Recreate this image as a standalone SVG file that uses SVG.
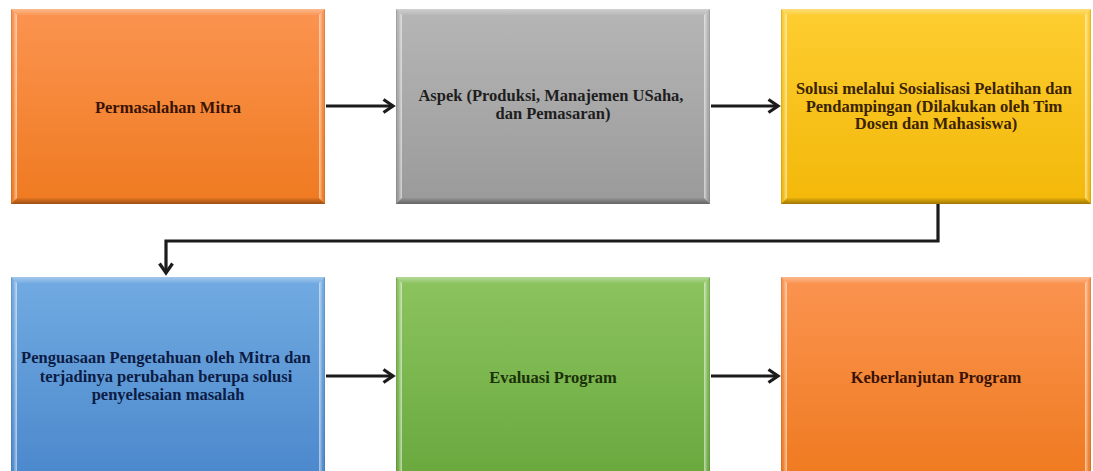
<svg xmlns="http://www.w3.org/2000/svg" width="1093" height="471" viewBox="0 0 1093 471">
  <style>
    .lbl { font-family: "Liberation Serif", "Times New Roman", serif; font-weight: bold; font-size: 16.5px; text-anchor: middle; }
    .conn { fill: none; stroke: #1b1b1b; stroke-width: 3.2; }
    .edge { fill: none; stroke-width: 1; }
  </style>
  <defs>
    <!-- body fills, light at top, deeper at bottom -->
    <linearGradient id="gOrange" x1="0" y1="0" x2="0" y2="1">
      <stop offset="0" stop-color="#fb9450"/>
      <stop offset="1" stop-color="#ef7a20"/>
    </linearGradient>
    <linearGradient id="gGray" x1="0" y1="0" x2="0" y2="1">
      <stop offset="0" stop-color="#b6b6b6"/>
      <stop offset="1" stop-color="#9a9a9a"/>
    </linearGradient>
    <linearGradient id="gYellow" x1="0" y1="0" x2="0" y2="1">
      <stop offset="0" stop-color="#fdcd30"/>
      <stop offset="1" stop-color="#f3b809"/>
    </linearGradient>
    <linearGradient id="gBlue" x1="0" y1="0" x2="0" y2="1">
      <stop offset="0" stop-color="#72abe2"/>
      <stop offset="1" stop-color="#4b88cc"/>
    </linearGradient>
    <linearGradient id="gGreen" x1="0" y1="0" x2="0" y2="1">
      <stop offset="0" stop-color="#8cc460"/>
      <stop offset="1" stop-color="#6aa83e"/>
    </linearGradient>
    <!-- bevel face shading, colour-neutral overlays -->
    <linearGradient id="bevL" x1="0" y1="0" x2="1" y2="0">
      <stop offset="0" stop-color="#000" stop-opacity="0.22"/>
      <stop offset="0.35" stop-color="#fff" stop-opacity="0"/>
      <stop offset="1" stop-color="#fff" stop-opacity="0.6"/>
    </linearGradient>
    <linearGradient id="bevR" x1="0" y1="0" x2="1" y2="0">
      <stop offset="0" stop-color="#fff" stop-opacity="0.6"/>
      <stop offset="0.65" stop-color="#fff" stop-opacity="0"/>
      <stop offset="1" stop-color="#000" stop-opacity="0.2"/>
    </linearGradient>
    <linearGradient id="bevT" x1="0" y1="0" x2="0" y2="1">
      <stop offset="0" stop-color="#fff" stop-opacity="0.35"/>
      <stop offset="1" stop-color="#fff" stop-opacity="0.05"/>
    </linearGradient>
    <linearGradient id="bevB" x1="0" y1="0" x2="0" y2="1">
      <stop offset="0" stop-color="#000" stop-opacity="0.05"/>
      <stop offset="1" stop-color="#000" stop-opacity="0.35"/>
    </linearGradient>
    <marker id="chev" viewBox="0 0 14 16" refX="11" refY="8" markerWidth="14" markerHeight="16" markerUnits="userSpaceOnUse" orient="auto">
      <path d="M1.5,1.5 L11,8 L1.5,14.5" fill="none" stroke="#1b1b1b" stroke-width="3.2" stroke-linejoin="miter"/>
    </marker>
  </defs>

  <rect width="1093" height="471" fill="#ffffff"/>

  <!-- connectors -->
  <g id="connectors">
    <line class="conn" x1="326" y1="106" x2="393" y2="106" marker-end="url(#chev)"/>
    <line class="conn" x1="711" y1="106" x2="778" y2="106" marker-end="url(#chev)"/>
    <path class="conn" d="M938,204 V241 H166 V273" marker-end="url(#chev)"/>
    <line class="conn" x1="326" y1="376" x2="393" y2="376" marker-end="url(#chev)"/>
    <line class="conn" x1="711" y1="376" x2="778" y2="376" marker-end="url(#chev)"/>
  </g>

  <!-- row 1 -->
  <g id="n-permasalahan">
    <rect x="11" y="9" width="314" height="195" fill="url(#gOrange)"/>
    <polygon points="11,9 17,15 17,198 11,204" fill="url(#bevL)"/>
    <polygon points="325,9 319,15 319,198 325,204" fill="url(#bevR)"/>
    <polygon points="11,9 325,9 319,15 17,15" fill="url(#bevT)"/>
    <polygon points="11,204 17,198 319,198 325,204" fill="url(#bevB)"/>
    <text class="lbl" x="168" y="113" fill="#3a1305">Permasalahan Mitra</text>
  </g>

  <g id="n-aspek">
    <rect x="396" y="9" width="314" height="195" fill="url(#gGray)"/>
    <polygon points="396,9 402,15 402,198 396,204" fill="url(#bevL)"/>
    <polygon points="710,9 704,15 704,198 710,204" fill="url(#bevR)"/>
    <polygon points="396,9 710,9 704,15 402,15" fill="url(#bevT)"/>
    <polygon points="396,204 402,198 704,198 710,204" fill="url(#bevB)"/>
    <text class="lbl" x="553" y="101" fill="#1e1e1e">
      <tspan x="553">Aspek (Produksi, Manajemen USaha,</tspan>
      <tspan x="553" dy="18">dan Pemasaran)</tspan>
    </text>
  </g>

  <g id="n-solusi">
    <rect x="781" y="9" width="310" height="195" fill="url(#gYellow)"/>
    <polygon points="781,9 787,15 787,198 781,204" fill="url(#bevL)"/>
    <polygon points="1091,9 1085,15 1085,198 1091,204" fill="url(#bevR)"/>
    <polygon points="781,9 1091,9 1085,15 787,15" fill="url(#bevT)"/>
    <polygon points="781,204 787,198 1085,198 1091,204" fill="url(#bevB)"/>
    <text class="lbl" x="936" y="94" fill="#3a2300">
      <tspan x="936">Solusi melalui Sosialisasi Pelatihan dan</tspan>
      <tspan x="936" dy="17.5">Pendampingan (Dilakukan oleh Tim</tspan>
      <tspan x="936" dy="17.5">Dosen dan Mahasiswa)</tspan>
    </text>
  </g>

  <!-- row 2 -->
  <g id="n-penguasaan">
    <rect x="11" y="277" width="314" height="200" fill="url(#gBlue)"/>
    <polygon points="11,277 17,283 17,477 11,477" fill="url(#bevL)"/>
    <polygon points="325,277 319,283 319,477 325,477" fill="url(#bevR)"/>
    <polygon points="11,277 325,277 319,283 17,283" fill="url(#bevT)"/>
    <text class="lbl" x="168" y="363" fill="#0c1c44">
      <tspan x="168">Penguasaan Pengetahuan oleh Mitra dan</tspan>
      <tspan x="168" dy="18.5">terjadinya perubahan berupa solusi</tspan>
      <tspan x="168" dy="18.5">penyelesaian masalah</tspan>
    </text>
  </g>

  <g id="n-evaluasi">
    <rect x="396" y="277" width="314" height="200" fill="url(#gGreen)"/>
    <polygon points="396,277 402,283 402,477 396,477" fill="url(#bevL)"/>
    <polygon points="710,277 704,283 704,477 710,477" fill="url(#bevR)"/>
    <polygon points="396,277 710,277 704,283 402,283" fill="url(#bevT)"/>
    <text class="lbl" x="553" y="383" fill="#1a3008">Evaluasi Program</text>
  </g>

  <g id="n-keberlanjutan">
    <rect x="781" y="277" width="310" height="200" fill="url(#gOrange)"/>
    <polygon points="781,277 787,283 787,477 781,477" fill="url(#bevL)"/>
    <polygon points="1091,277 1085,283 1085,477 1091,477" fill="url(#bevR)"/>
    <polygon points="781,277 1091,277 1085,283 787,283" fill="url(#bevT)"/>
    <text class="lbl" x="936" y="383" fill="#3a1305">Keberlanjutan Program</text>
  </g>
</svg>
